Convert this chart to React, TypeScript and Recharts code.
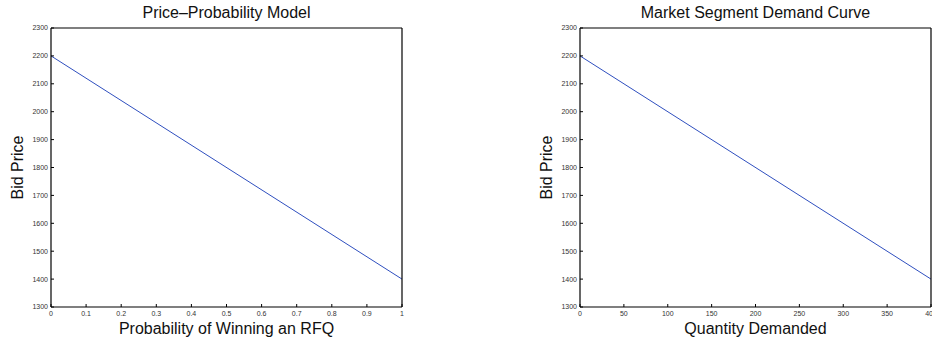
import React from 'react';
import { LineChart, Line, XAxis, YAxis } from 'recharts';

const probability = [0, 1];
const quantity = [0, 400];
const bidPrice = [2200, 1400];

const priceTicks = [1300, 1400, 1500, 1600, 1700, 1800, 1900, 2000, 2100, 2200, 2300];
const probTicks = [0, 0.1, 0.2, 0.3, 0.4, 0.5, 0.6, 0.7, 0.8, 0.9, 1];
const qtyTicks = [0, 50, 100, 150, 200, 250, 300, 350, 400];

const leftData = probability.map((p, i) => ({ x: p, y: bidPrice[i] }));
const rightData = quantity.map((q, i) => ({ x: q, y: bidPrice[i] }));

const FONT = '"Liberation Sans", Arial, Helvetica, sans-serif';
const TICK_STYLE = { fontSize: 7, fill: '#333', fontFamily: FONT };

type PanelProps = {
  data: { x: number; y: number }[];
  xTicks: number[];
  xDomain: [number, number];
  title: string;
  xLabel: string;
  left: number;
  plotLeft: number;
  plotRight: number;
};

const W = 466;
const H = 341;
const PLOT_TOP = 28;
const PLOT_BOTTOM = 307;

function Panel({ data, xTicks, xDomain, title, xLabel, left, plotLeft, plotRight }: PanelProps) {
  const plotW = plotRight - plotLeft;
  return (
    <div style={{ position: 'absolute', left, top: 0, width: W, height: H }}>
      <div
        style={{
          position: 'absolute',
          left: plotLeft,
          top: 4,
          width: plotW,
          textAlign: 'center',
          fontFamily: FONT,
          fontSize: 16,
          color: '#111',
          lineHeight: '18px',
        }}
      >
        {title}
      </div>
      <LineChart
        width={W}
        height={H}
        data={data}
        margin={{ top: PLOT_TOP - 1, left: plotLeft - 1, right: W - plotRight - 1, bottom: H - PLOT_BOTTOM - 1 }}
        style={{ overflow: 'hidden' }}
      >
        <XAxis
          xAxisId="b"
          dataKey="x"
          type="number"
          domain={xDomain}
          ticks={xTicks}
          interval={0}
          height={1}
          stroke="#000"
          tickSize={-3}
          tickMargin={7}
          tick={TICK_STYLE}
          tickLine={{ stroke: '#000' }}
          axisLine={{ stroke: '#000', strokeWidth: 1.2 }}
          allowDataOverflow
          label={{
            content: (props: any) => {
              const vb = props.viewBox;
              return (
                <text
                  x={vb.x + vb.width / 2}
                  y={vb.y + 27}
                  textAnchor="middle"
                  fontFamily={FONT}
                  fontSize={16}
                  fill="#111"
                >
                  {xLabel}
                </text>
              );
            },
          }}
        />
        <XAxis
          xAxisId="t"
          dataKey="x"
          type="number"
          orientation="top"
          domain={xDomain}
          ticks={xTicks}
          interval={0}
          height={1}
          stroke="#000"
          tickSize={-3}
          tick={false}
          tickLine={{ stroke: '#000' }}
          axisLine={{ stroke: '#000', strokeWidth: 1.2 }}
          allowDataOverflow
        />
        <YAxis
          yAxisId="l"
          type="number"
          domain={[1300, 2300]}
          ticks={priceTicks}
          interval={0}
          width={1}
          stroke="#000"
          tickSize={-3}
          tickMargin={6}
          tick={TICK_STYLE}
          tickLine={{ stroke: '#000' }}
          axisLine={{ stroke: '#000', strokeWidth: 1.2 }}
          allowDataOverflow
          label={{
            content: (props: any) => {
              const vb = props.viewBox;
              const cx = vb.x + vb.width - 28;
              const cy = vb.y + vb.height / 2;
              return (
                <text
                  x={cx}
                  y={cy}
                  transform={`rotate(-90 ${cx} ${cy})`}
                  textAnchor="middle"
                  fontFamily={FONT}
                  fontSize={16}
                  fill="#111"
                >
                  Bid Price
                </text>
              );
            },
          }}
        />
        <YAxis
          yAxisId="r"
          type="number"
          orientation="right"
          domain={[1300, 2300]}
          ticks={priceTicks}
          interval={0}
          width={1}
          stroke="#000"
          tickSize={-3}
          tick={false}
          tickLine={{ stroke: '#000' }}
          axisLine={{ stroke: '#000', strokeWidth: 1.2 }}
          allowDataOverflow
        />
        <Line
          xAxisId="b"
          yAxisId="l"
          type="linear"
          dataKey="y"
          stroke="#2f4fbf"
          strokeWidth={1}
          dot={false}
          isAnimationActive={false}
        />
        <Line
          xAxisId="t"
          yAxisId="r"
          type="linear"
          dataKey="y"
          stroke="none"
          dot={false}
          isAnimationActive={false}
        />
      </LineChart>
    </div>
  );
}

export default function App() {
  return (
    <div style={{ position: 'absolute', left: 0, top: 0, width: 932, height: 341, background: '#fff', overflow: 'hidden' }}>
      <Panel
        data={leftData}
        xTicks={probTicks}
        xDomain={[0, 1]}
        title="Price–Probability Model"
        xLabel="Probability of Winning an RFQ"
        left={0}
        plotLeft={51}
        plotRight={402}
      />
      <Panel
        data={rightData}
        xTicks={qtyTicks}
        xDomain={[0, 400]}
        title="Market Segment Demand Curve"
        xLabel="Quantity Demanded"
        left={466}
        plotLeft={114}
        plotRight={465}
      />
    </div>
  );
}
